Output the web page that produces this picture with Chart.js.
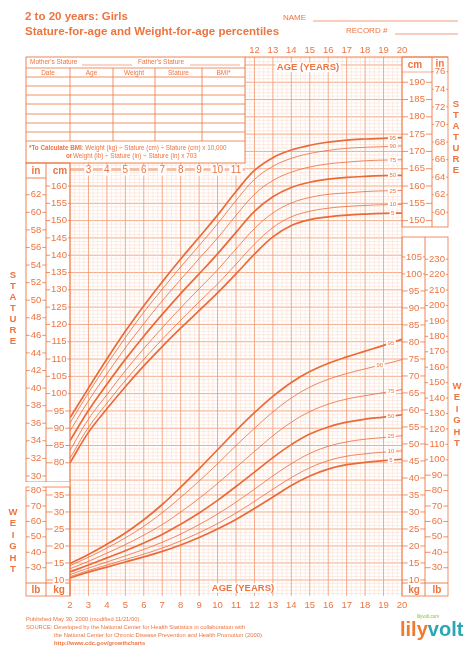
<!DOCTYPE html>
<html>
<head>
<meta charset="utf-8">
<script src="https://cdn.jsdelivr.net/npm/chart.js@4"></script>
<style>
  html, body { margin: 0; padding: 0; background: #fff; }
  #wrap { width: 474px; height: 653px; position: relative; }
</style>
</head>
<body>
<div id="wrap"><canvas id="growth"></canvas></div>
<script>
// ages 2..20
const ages = [2, 3, 4, 5, 6, 7, 8, 9, 10, 11, 12, 13, 14, 15, 16, 17, 18, 19, 20];
const percentiles = ['5', '10', '25', '50', '75', '90', '95'];

// stature (cm)
const stature5  = [80.0, 88.8, 95.6, 102.0, 108.0, 113.6, 118.9, 124.0, 129.1, 134.6, 140.3, 145.3, 148.6, 150.3, 151.1, 151.6, 151.9, 152.1, 152.2];
const stature10 = [81.3, 90.2, 97.2, 103.8, 109.9, 115.7, 121.2, 126.5, 131.7, 137.4, 143.2, 148.0, 151.1, 152.7, 153.6, 154.1, 154.4, 154.6, 154.7];
const stature25 = [83.6, 92.6, 99.7, 106.6, 113.0, 119.0, 124.8, 130.3, 135.8, 141.8, 147.7, 152.2, 155.1, 156.7, 157.6, 158.0, 158.4, 158.6, 158.7];
const stature50 = [86.4, 95.1, 102.7, 109.9, 116.6, 122.9, 128.9, 134.6, 140.4, 146.6, 152.7, 156.9, 159.6, 161.1, 162.0, 162.5, 162.8, 163.0, 163.1];
const stature75 = [89.2, 97.9, 105.7, 113.2, 120.2, 126.8, 133.0, 139.0, 145.0, 151.5, 157.6, 161.6, 164.0, 165.5, 166.4, 166.9, 167.3, 167.5, 167.6];
const stature90 = [91.5, 100.2, 108.4, 116.2, 123.5, 130.2, 136.6, 142.8, 149.1, 155.8, 161.9, 165.7, 168.0, 169.4, 170.3, 170.9, 171.2, 171.4, 171.6];
const stature95 = [93.0, 101.6, 110.0, 118.0, 125.4, 132.3, 138.9, 145.2, 151.6, 158.4, 164.5, 168.2, 170.4, 171.8, 172.7, 173.3, 173.6, 173.8, 174.0];

// weight (kg)
const weight5  = [10.6, 12.3, 13.8, 15.3, 16.8, 18.4, 20.3, 22.5, 25.0, 27.8, 31.0, 34.4, 37.8, 40.6, 42.6, 43.9, 44.6, 45.1, 45.5];
const weight10 = [11.0, 12.8, 14.4, 16.0, 17.6, 19.4, 21.5, 23.9, 26.6, 29.7, 33.1, 36.7, 40.1, 43.0, 45.1, 46.4, 47.1, 47.6, 48.0];
const weight25 = [11.6, 13.5, 15.3, 17.1, 19.0, 21.1, 23.5, 26.3, 29.4, 32.9, 36.7, 40.6, 44.2, 47.2, 49.3, 50.6, 51.4, 51.9, 52.4];
const weight50 = [12.4, 14.4, 16.5, 18.6, 20.9, 23.4, 26.4, 29.7, 33.4, 37.5, 41.7, 46.0, 49.8, 52.9, 55.0, 56.4, 57.3, 57.9, 58.6];
const weight75 = [13.3, 15.5, 17.9, 20.4, 23.2, 26.3, 30.0, 34.0, 38.4, 43.1, 47.8, 52.4, 56.4, 59.5, 61.7, 63.2, 64.2, 65.1, 66.0];
const weight90 = [14.2, 16.7, 19.4, 22.4, 25.8, 29.8, 34.3, 39.1, 44.2, 49.5, 54.6, 59.4, 63.5, 66.7, 69.0, 70.7, 72.1, 73.4, 74.8];
const weight95 = [14.8, 17.5, 20.5, 23.8, 27.7, 32.2, 37.3, 42.7, 48.3, 53.9, 59.2, 64.0, 68.1, 71.3, 73.7, 75.6, 77.3, 79.0, 80.8];

const statureSets = [stature5, stature10, stature25, stature50, stature75, stature90, stature95];
const weightSets = [weight5, weight10, weight25, weight50, weight75, weight90, weight95];

const ORANGE = '#ee7440';
const CURVE = '#ea6a38';
const GRID_MINOR = '#fbd9c8';
const GRID_MAJOR = '#f3a07a';
const FONT = 'Arial, "Liberation Sans", sans-serif';

const toPts = (vals) => vals.map((v, i) => ({ x: ages[i], y: v }));

const datasets = [];
statureSets.forEach((vals, i) => {
  const heavy = percentiles[i] === '5' || percentiles[i] === '50' || percentiles[i] === '95';
  datasets.push({ label: 'Stature ' + percentiles[i], data: toPts(vals), yAxisID: 'yS',
    borderColor: CURVE, borderWidth: heavy ? 1.7 : 0.8, pointRadius: 0, tension: 0.4, fill: false });
});
weightSets.forEach((vals, i) => {
  const heavy = percentiles[i] === '5' || percentiles[i] === '50' || percentiles[i] === '95';
  datasets.push({ label: 'Weight ' + percentiles[i], data: toPts(vals), yAxisID: 'yW',
    borderColor: CURVE, borderWidth: heavy ? 1.7 : 0.8, pointRadius: 0, tension: 0.4, fill: false });
});

const SPLIT_Y = 482; // boundary between stature grid and weight grid on the left

const line = (ctx, x1, y1, x2, y2, color, w) => {
  ctx.strokeStyle = color; ctx.lineWidth = w || 0.8;
  ctx.beginPath(); ctx.moveTo(x1, y1); ctx.lineTo(x2, y2); ctx.stroke();
};
const text = (ctx, s, x, y, size, align, bold, color) => {
  ctx.font = (bold ? 'bold ' : '') + size + 'px ' + FONT;
  ctx.fillStyle = color || ORANGE;
  ctx.textAlign = align || 'left';
  ctx.textBaseline = 'middle';
  ctx.fillText(s, x, y);
};
const boxedText = (ctx, s, x, y, size, bold) => {
  ctx.font = (bold ? 'bold ' : '') + size + 'px ' + FONT;
  const w = ctx.measureText(s).width;
  ctx.fillStyle = '#fff';
  ctx.fillRect(x - w / 2 - 1.5, y - size / 2, w + 3, size);
  text(ctx, s, x, y, size, 'center', bold);
};
// tick label like "-62-"
const tickLabel = (ctx, s, x, y, left, right) => {
  ctx.font = '9.5px ' + FONT;
  const w = ctx.measureText(s).width;
  ctx.fillStyle = '#fff';
  ctx.fillRect(x - w / 2 - 1, y - 5, w + 2, 10);
  text(ctx, s, x, y, 9.5, 'center');
  if (left != null) line(ctx, left, y, x - w / 2 - 1, y, ORANGE, 0.8);
  if (right != null) line(ctx, x + w / 2 + 1, y, right, y, ORANGE, 0.8);
};

const sheetPlugin = {
  id: 'sheet',
  beforeDatasetsDraw(chart) {
    const { ctx, chartArea: a } = chart;
    const x = chart.scales.x, yS = chart.scales.yS, yW = chart.scales.yW;
    ctx.save();
    // horizontal grid
    for (let cm = 42; cm <= 197; cm++) {
      const py = yS.getPixelForValue(cm);
      if (py < a.top || py > SPLIT_Y) continue;
      line(ctx, a.left, py, a.right, py, cm % 5 === 0 ? GRID_MAJOR : GRID_MINOR, cm % 5 === 0 ? 0.9 : 0.5);
    }
    for (let kg = 6; kg <= 160; kg++) {
      const py = yW.getPixelForValue(kg);
      if (py <= SPLIT_Y || py > a.bottom) continue;
      line(ctx, a.left, py, a.right, py, kg % 5 === 0 ? GRID_MAJOR : GRID_MINOR, kg % 5 === 0 ? 0.9 : 0.5);
    }
    // vertical grid
    for (let q = 8; q <= 80; q++) {
      const age = q / 4;
      const px = x.getPixelForValue(age);
      const major = q % 4 === 0;
      line(ctx, px, a.top, px, a.bottom, major ? GRID_MAJOR : GRID_MINOR, major ? 0.9 : 0.5);
    }
    ctx.restore();
  },
  afterDatasetsDraw(chart) {
    const { ctx, chartArea: a } = chart;
    const x = chart.scales.x, yS = chart.scales.yS, yW = chart.scales.yW;
    ctx.save();

    // percentile labels at the right ends
    statureSets.forEach((vals, i) => {
      boxedText(ctx, percentiles[i], x.getPixelForValue(19.5), yS.getPixelForValue(vals[vals.length - 1] - 0.1), 6);
    });
    weightSets.forEach((vals, i) => {
      const ax = percentiles[i] === '90' ? 18.8 : 19.4;
      const idx = 17;
      const v = vals[idx] + (vals[idx + 1] - vals[idx]) * (ax - 19);
      boxedText(ctx, percentiles[i], x.getPixelForValue(ax), yW.getPixelForValue(vals[18] - (20 - ax) * (vals[18] - vals[17])), 6);
    });

    // record table box (top-left)
    ctx.fillStyle = '#fff';
    ctx.fillRect(26, 57, 219, 106);
    ctx.strokeStyle = ORANGE; ctx.lineWidth = 0.9;
    ctx.strokeRect(26, 57, 219, 106);
    text(ctx, "Mother's Stature", 30, 62.5, 6.5);
    line(ctx, 82, 65, 132, 65, ORANGE, 0.6);
    text(ctx, "Father's Stature", 138, 62.5, 6.5);
    line(ctx, 190, 65, 240, 65, ORANGE, 0.6);
    line(ctx, 26, 68, 245, 68, ORANGE, 0.8);
    const cols = [26, 70, 113, 155, 202, 245];
    const heads = ['Date', 'Age', 'Weight', 'Stature', 'BMI*'];
    heads.forEach((h, i) => text(ctx, h, (cols[i] + cols[i + 1]) / 2, 73, 6.5, 'center'));
    [77, 86, 95, 104, 114, 123, 132, 141].forEach(yy => line(ctx, 26, yy, 245, yy, ORANGE, 0.8));
    cols.slice(1, 5).forEach(xx => line(ctx, xx, 68, xx, 141, ORANGE, 0.8));
    ctx.font = 'bold 6.3px ' + FONT;
    const bmiA = '*To Calculate BMI';
    const wA = ctx.measureText(bmiA).width;
    text(ctx, bmiA, 29, 148, 6.3, 'left', true);
    text(ctx, ': Weight (kg) \u00f7 Stature (cm) \u00f7 Stature (cm) x 10,000', 29 + wA, 148, 6.3);
    text(ctx, 'or', 66, 156.5, 6.3, 'left', true);
    text(ctx, 'Weight (lb) \u00f7 Stature (in) \u00f7 Stature (in) x 703', 73, 156.5, 6.3);

    // header row under table: ages 3..11
    line(ctx, 70, 170, 245, 170, ORANGE, 0.8);
    for (let age = 3; age <= 11; age++) boxedText(ctx, String(age), x.getPixelForValue(age), 170.5, 10);

    // top frame and top age labels
    line(ctx, 245, 57, 448, 57, ORANGE, 0.9);
    for (let age = 12; age <= 20; age++) text(ctx, String(age), x.getPixelForValue(age), 50.5, 9.5, 'center');
    boxedText(ctx, 'AGE (YEARS)', 308, 67.5, 9.5, true);
    boxedText(ctx, 'AGE (YEARS)', 243, 588, 9.5, true);
    for (let age = 2; age <= 20; age++) text(ctx, String(age), x.getPixelForValue(age), 605, 9.5, 'center');

    // left stature columns
    ctx.strokeStyle = ORANGE; ctx.lineWidth = 0.9;
    ctx.strokeRect(26, 163, 44, SPLIT_Y - 163);
    line(ctx, 46, 163, 46, SPLIT_Y, ORANGE, 0.9);
    line(ctx, 26, 178, 46, 178, ORANGE, 0.9);
    text(ctx, 'in', 36, 171, 10, 'center', true);
    text(ctx, 'cm', 60, 171, 10, 'center', true);
    for (let inch = 30; inch <= 62; inch += 2) {
      const py = yS.getPixelForValue(inch * 2.54);
      tickLabel(ctx, String(inch), 36, py, 26, 46);
    }
    for (let cm = 80; cm <= 160; cm += 5) {
      const py = yS.getPixelForValue(cm);
      tickLabel(ctx, String(cm), 59, py, 46, 70);
    }

    // left weight columns
    ctx.fillStyle = '#fff';
    ctx.fillRect(20, SPLIT_Y, 50, 5);
    ctx.strokeStyle = ORANGE;
    ctx.strokeRect(26, 487, 44, 109);
    line(ctx, 46, 487, 46, 596, ORANGE, 0.9);
    line(ctx, 26, 583, 70, 583, ORANGE, 0.9);
    line(ctx, 70, SPLIT_Y, 70, 596, ORANGE, 0.9);
    text(ctx, 'lb', 36, 590, 10, 'center', true);
    text(ctx, 'kg', 59, 590, 10, 'center', true);
    for (let lb = 30; lb <= 80; lb += 10) {
      tickLabel(ctx, String(lb), 36, yW.getPixelForValue(lb / 2.2046), 26, 46);
    }
    for (let kg = 10; kg <= 35; kg += 5) {
      tickLabel(ctx, String(kg), 59, yW.getPixelForValue(kg), 46, 70);
    }

    // right stature columns
    ctx.strokeRect(402, 57, 46, 170);
    line(ctx, 432, 57, 432, 227, ORANGE, 0.9);
    line(ctx, 402, 72, 432, 72, ORANGE, 0.6);
    text(ctx, 'cm', 415, 65, 10, 'center', true);
    text(ctx, 'in', 440, 64, 10, 'center', true);
    for (let cm = 150; cm <= 190; cm += 5) {
      tickLabel(ctx, String(cm), 417, yS.getPixelForValue(cm), 402, 432);
    }
    for (let inch = 60; inch <= 76; inch += 2) {
      tickLabel(ctx, String(inch), 440, yS.getPixelForValue(inch * 2.54), 432, 448);
    }

    // right weight columns
    ctx.fillStyle = '#fff';
    ctx.fillRect(403, 228, 50, 8);
    ctx.strokeStyle = ORANGE;
    ctx.strokeRect(402, 237, 46, 359);
    line(ctx, 425, 237, 425, 596, ORANGE, 0.9);
    line(ctx, 402, 583, 448, 583, ORANGE, 0.9);
    text(ctx, 'kg', 414, 590, 10, 'center', true);
    text(ctx, 'lb', 437, 590, 10, 'center', true);
    for (let kg = 10; kg <= 105; kg += 5) {
      tickLabel(ctx, String(kg), 414, yW.getPixelForValue(kg), 402, 425);
    }
    for (let lb = 30; lb <= 230; lb += 10) {
      tickLabel(ctx, String(lb), 437, yW.getPixelForValue(lb / 2.2046), 425, 448);
    }

    // vertical words
    'STATURE'.split('').forEach((c, i) => text(ctx, c, 13, 275 + i * 11, 9.5, 'center', true));
    'STATURE'.split('').forEach((c, i) => text(ctx, c, 456, 104 + i * 11, 9.5, 'center', true));
    'WEIGHT'.split('').forEach((c, i) => text(ctx, c, 13, 512 + i * 11.5, 9.5, 'center', true));
    'WEIGHT'.split('').forEach((c, i) => text(ctx, c, 457, 386 + i * 11.5, 9.5, 'center', true));

    // title and name fields
    text(ctx, '2 to 20 years: Girls', 25, 17, 11.5, 'left', true);
    text(ctx, 'Stature-for-age and Weight-for-age percentiles', 25, 32, 11.5, 'left', true);
    text(ctx, 'NAME', 283, 18, 8);
    line(ctx, 313, 21, 458, 21, ORANGE, 0.7);
    text(ctx, 'RECORD #', 346, 31, 8);
    line(ctx, 395, 34, 458, 34, ORANGE, 0.7);

    // footer
    text(ctx, 'Published May 30, 2000 (modified 11/21/00).', 26, 619, 5.8);
    text(ctx, 'SOURCE:', 26, 627, 5.8);
    text(ctx, 'Developed by the National Center for Health Statistics in collaboration with', 54, 627, 5.8);
    text(ctx, 'the National Center for Chronic Disease Prevention and Health Promotion (2000).', 54, 635, 5.8);
    text(ctx, 'http://www.cdc.gov/growthcharts', 54, 643, 5.8, 'left', true);
    text(ctx, 'lily', 400, 630, 20, 'left', true, '#f07a2e');
    ctx.font = 'bold 20px ' + FONT;
    const lw = ctx.measureText('lily').width;
    text(ctx, 'volt', 400 + lw, 630, 20, 'left', true, '#2aa7b5');
    text(ctx, 'lilyvolt.com', 428, 617, 4.5, 'center', false, '#8ab83a');

    ctx.restore();
  }
};

new Chart(document.getElementById('growth'), {
  type: 'line',
  data: { datasets },
  options: {
    responsive: true,
    maintainAspectRatio: false,
    animation: false,
    layout: { padding: { left: 70, right: 72, top: 57, bottom: 57 } },
    plugins: { legend: { display: false }, tooltip: { enabled: false } },
    scales: {
      x: { type: 'linear', min: 2, max: 20, display: false },
      yS: { type: 'linear', min: 41.5, max: 197.3, display: false },
      yW: { type: 'linear', min: 5.29, max: 163.8, display: false }
    }
  },
  plugins: [sheetPlugin]
});
</script>
</body>
</html>
